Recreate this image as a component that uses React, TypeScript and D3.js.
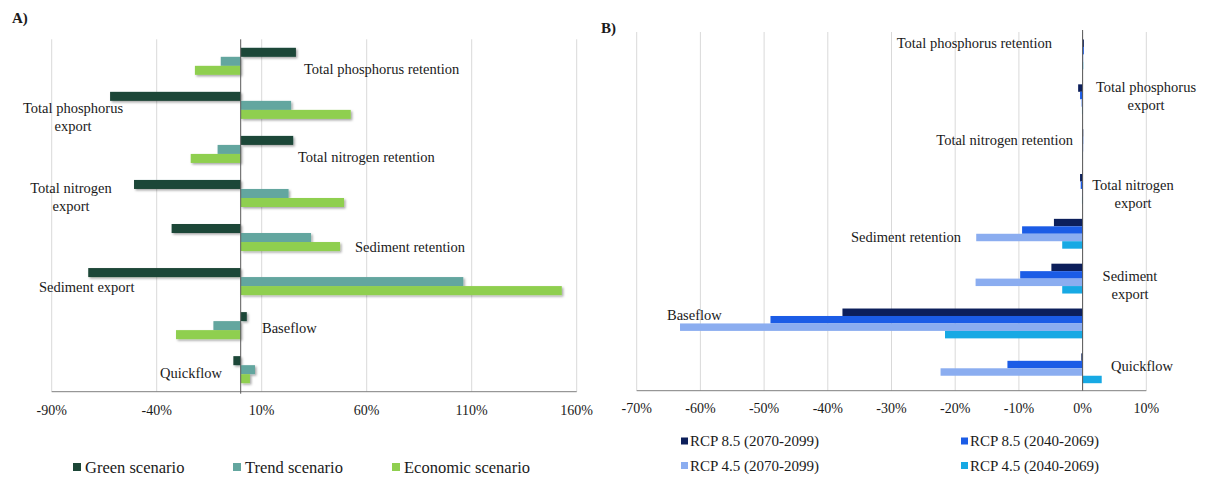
import React from "react";
import * as d3 from "d3";

// ---- Data ----
const categories = [
  "Total phosphorus retention",
  "Total phosphorus export",
  "Total nitrogen retention",
  "Total nitrogen export",
  "Sediment retention",
  "Sediment export",
  "Baseflow",
  "Quickflow",
];

// Panel A: land-use scenarios (% change)
const scenarioNames = ["Green scenario", "Trend scenario", "Economic scenario"];
const greenScenario = [26.3, -62.2, 25.0, -50.8, -32.9, -72.6, 2.9, -3.5];
const trendScenario = [-9.5, 24.0, -11.0, 22.8, 33.5, 106.0, -13.0, 6.8];
const economicScenario = [-21.8, 52.4, -23.8, 49.2, 47.3, 152.9, -30.8, 4.4];
const ticksA = [-90, -40, 10, 60, 110, 160];

// Panel B: climate scenarios (% change)
const climateNames = [
  "RCP 8.5 (2070-2099)",
  "RCP 8.5 (2040-2069)",
  "RCP 4.5 (2070-2099)",
  "RCP 4.5 (2040-2069)",
];
const rcp85Late = [0.2, -0.7, 0.1, -0.4, -4.5, -4.9, -37.7, -0.2];
const rcp85Mid = [0.2, -0.4, 0.1, -0.3, -9.5, -9.8, -49.0, -11.8];
const rcp45Late = [0.1, -0.2, 0.1, -0.1, -16.7, -16.8, -63.2, -22.3];
const rcp45Mid = [0.1, -0.1, 0.05, -0.1, -3.2, -3.2, -21.6, 3.0];
const ticksB = [-70, -60, -50, -40, -30, -20, -10, 0, 10];

const colorsA = ["#1c4637", "#63a69f", "#8fcf4f"];
const colorsB = ["#0c1f5b", "#1b5ce6", "#8badf0", "#17a9e4"];

const FONT = "'Liberation Serif', 'Times New Roman', serif";
const TEXT = "#1a1a1a";

type LabelPos = { lines: string[]; anchor: "start" | "middle" | "end"; x: number; dy: number };

// Category label placement: x in pixels, dy relative to the band centre
const labelsA: LabelPos[] = [
  { lines: ["Total phosphorus retention"], anchor: "start", x: 304, dy: 8 },
  { lines: ["Total phosphorus", "export"], anchor: "middle", x: 73, dy: 2.6 },
  { lines: ["Total nitrogen retention"], anchor: "start", x: 298, dy: 7.3 },
  { lines: ["Total nitrogen", "export"], anchor: "middle", x: 71, dy: -5.5 },
  { lines: ["Sediment retention"], anchor: "start", x: 355, dy: 9.8 },
  { lines: ["Sediment export"], anchor: "start", x: 39, dy: 5.7 },
  { lines: ["Baseflow"], anchor: "start", x: 262, dy: 2.7 },
  { lines: ["Quickflow"], anchor: "start", x: 160, dy: 3.6 },
];

const labelsB: LabelPos[] = [
  { lines: ["Total phosphorus retention"], anchor: "end", x: 1052, dy: -11.7 },
  { lines: ["Total phosphorus", "export"], anchor: "middle", x: 1146, dy: -12.6 },
  { lines: ["Total nitrogen retention"], anchor: "end", x: 1073, dy: -4 },
  { lines: ["Total nitrogen", "export"], anchor: "middle", x: 1133, dy: -4 },
  { lines: ["Sediment retention"], anchor: "start", x: 851, dy: 2.9 },
  { lines: ["Sediment", "export"], anchor: "middle", x: 1130, dy: -2.6 },
  { lines: ["Baseflow"], anchor: "start", x: 667, dy: -8.5 },
  { lines: ["Quickflow"], anchor: "start", x: 1111, dy: -2.6 },
];

function CategoryLabels({ labels, y }: { labels: LabelPos[]; y: d3.ScaleBand<string> }) {
  return (
    <g fontFamily={FONT} fontSize={14.5} fill={TEXT}>
      {labels.map((l, i) => {
        const cy = (y(categories[i]) ?? 0) + y.bandwidth() / 2 + l.dy;
        return (
          <text key={i} x={l.x} y={cy} textAnchor={l.anchor} dominantBaseline="central">
            {l.lines.map((line, j) => (
              <tspan key={j} x={l.x} dy={j === 0 ? 0 : 18}>
                {line}
              </tspan>
            ))}
          </text>
        );
      })}
    </g>
  );
}

function PanelA() {
  const top = 39.3;
  const bottom = 391.7;
  const x = d3.scaleLinear().domain([-90, 160]).range([51.7, 576.7]);
  const pad = 17 / 44.05;
  const y = d3.scaleBand<string>().domain(categories).range([top, bottom]).paddingInner(pad).paddingOuter(pad / 2);
  const ys = d3.scaleBand<string>().domain(scenarioNames).range([0, y.bandwidth()]);
  const series = [greenScenario, trendScenario, economicScenario];

  return (
    <g>
      <text x={12} y={18} fontFamily={FONT} fontWeight="bold" fontSize={15} fill={TEXT} dominantBaseline="central">
        A)
      </text>
      {ticksA.map((t) => (
        <line key={t} x1={x(t)} x2={x(t)} y1={top} y2={bottom} stroke="#d9d9d9" strokeWidth={1} />
      ))}
      <g filter="url(#barShadow)">
        {series.map((vals, s) =>
          vals.map((v, i) => (
            <rect
              key={`${s}-${i}`}
              x={Math.min(x(0), x(v))}
              width={Math.abs(x(v) - x(0))}
              y={(y(categories[i]) ?? 0) + (ys(scenarioNames[s]) ?? 0)}
              height={ys.bandwidth()}
              fill={colorsA[s]}
            />
          ))
        )}
      </g>
      <line x1={x(-90)} x2={x(160)} y1={bottom} y2={bottom} stroke="#7f7f7f" strokeWidth={1} />
      <line x1={x(0)} x2={x(0)} y1={top} y2={bottom + 2} stroke="#595959" strokeWidth={1} />
      <g fontFamily={FONT} fontSize={14} fill={TEXT}>
        {ticksA.map((t) => (
          <text key={t} x={x(t)} y={410} textAnchor="middle" dominantBaseline="central">
            {`${t}%`}
          </text>
        ))}
      </g>
      <CategoryLabels labels={labelsA} y={y} />
      {/* legend */}
      <g fontFamily={FONT} fontSize={16.5} fill={TEXT}>
        {scenarioNames.map((name, s) => {
          const lx = [73, 233, 392][s];
          return (
            <g key={name}>
              <rect x={lx} y={463} width={8} height={8} fill={colorsA[s]} />
              <text x={lx + 12} y={467} dominantBaseline="central">
                {name}
              </text>
            </g>
          );
        })}
      </g>
    </g>
  );
}

function PanelB() {
  const top = 32;
  const bottom = 390.7;
  const x = d3.scaleLinear().domain([-70, 10]).range([636.7, 1146.3]);
  const pad = 15 / 44.84;
  const y = d3.scaleBand<string>().domain(categories).range([top, bottom]).paddingInner(pad).paddingOuter(pad / 2);
  const ys = d3.scaleBand<string>().domain(climateNames).range([0, y.bandwidth()]);
  const series = [rcp85Late, rcp85Mid, rcp45Late, rcp45Mid];

  return (
    <g>
      <text x={601} y={28} fontFamily={FONT} fontWeight="bold" fontSize={15} fill={TEXT} dominantBaseline="central">
        B)
      </text>
      {ticksB.map((t) => (
        <line key={t} x1={x(t)} x2={x(t)} y1={top} y2={bottom} stroke="#d9d9d9" strokeWidth={1} />
      ))}
      {series.map((vals, s) =>
        vals.map((v, i) => (
          <rect
            key={`${s}-${i}`}
            x={Math.min(x(0), x(v))}
            width={Math.abs(x(v) - x(0))}
            y={(y(categories[i]) ?? 0) + (ys(climateNames[s]) ?? 0)}
            height={ys.bandwidth()}
            fill={colorsB[s]}
          />
        ))
      )}
      <line x1={x(-70)} x2={x(10)} y1={bottom} y2={bottom} stroke="#7f7f7f" strokeWidth={1} />
      <line x1={x(0)} x2={x(0)} y1={top - 2} y2={bottom} stroke="#595959" strokeWidth={1} />
      <g fontFamily={FONT} fontSize={14} fill={TEXT}>
        {ticksB.map((t) => (
          <text key={t} x={x(t)} y={408} textAnchor="middle" dominantBaseline="central">
            {`${t}%`}
          </text>
        ))}
      </g>
      <CategoryLabels labels={labelsB} y={y} />
      {/* legend */}
      <g fontFamily={FONT} fontSize={15} fill={TEXT}>
        {climateNames.map((name, s) => {
          const lx = s % 2 === 0 ? 681 : 961;
          const ly = s < 2 ? 441 : 465.5;
          return (
            <g key={name}>
              <rect x={lx} y={ly - 3.5} width={7} height={7} fill={colorsB[s]} />
              <text x={lx + 9} y={ly} dominantBaseline="central">
                {name}
              </text>
            </g>
          );
        })}
      </g>
    </g>
  );
}

export default function App() {
  return (
    <svg
      width={1205}
      height={479}
      viewBox="0 0 1205 479"
      style={{ position: "absolute", left: 0, top: 0, background: "#fff" }}
    >
      <defs>
        <filter id="barShadow" x="-5%" y="-20%" width="110%" height="160%">
          <feDropShadow dx={1.5} dy={1.5} stdDeviation={1} floodColor="#000" floodOpacity={0.35} />
        </filter>
      </defs>
      <rect width={1205} height={479} fill="#fff" />
      <PanelA />
      <PanelB />
    </svg>
  );
}
